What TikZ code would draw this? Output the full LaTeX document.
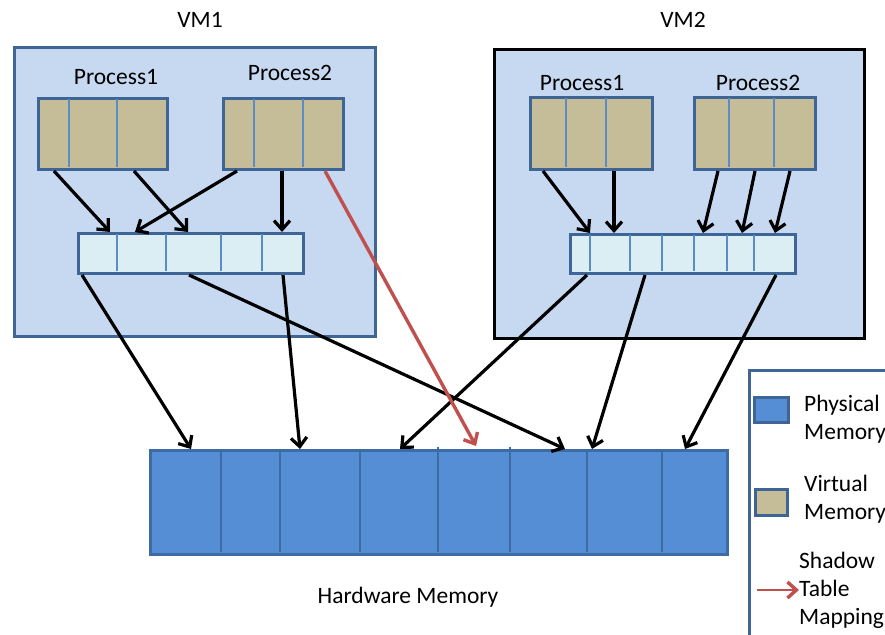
\documentclass[tikz,border=0pt]{standalone}
\usepackage{fontspec}
\setmainfont{Carlito}
\usetikzlibrary{arrows.meta}
\definecolor{vmfill}{HTML}{C6D9F1}
\definecolor{frame}{HTML}{3E6596}
\definecolor{tanfill}{HTML}{C4BD97}
\definecolor{shfill}{HTML}{DBEEF4}
\definecolor{cellline}{HTML}{5B8CC6}
\definecolor{hwfill}{HTML}{558ED5}
\definecolor{hwline}{HTML}{3C6BA6}
\definecolor{mapred}{HTML}{C0504D}
\tikzset{
  lbl/.style={font=\fontsize{23.5}{28}\selectfont, inner sep=0pt},
  vmbox/.style={draw=frame, fill=vmfill, line width=3pt, anchor=north west, inner sep=0pt},
  vbox/.style={draw=frame, fill=tanfill, line width=3pt, anchor=north west, inner sep=0pt},
  sbox/.style={draw=frame, fill=shfill, line width=3pt, anchor=north west, inner sep=0pt},
  hwbox/.style={draw=hwline, fill=hwfill, line width=3pt, anchor=north west, inner sep=0pt},
  divider/.style={draw=cellline, line width=1.2pt},
  hwdivider/.style={draw=hwline, line width=2.5pt},
  arr/.style={draw=black, line width=3.2pt, -{Straight Barb[length=9pt,width=16pt,line width=3.2pt]}},
  redarr/.style={draw=mapred, line width=3.4pt, -{Straight Barb[length=9pt,width=16pt,line width=3.4pt]}},
}
\begin{document}
\begin{tikzpicture}[x=1pt, y=-1pt]
\useasboundingbox (0,0) rectangle (885,634);

% virtual machines
\node[vmbox, minimum width=361, minimum height=289] (vm1) at (13,46) {};
\node[draw=black, fill=vmfill, line width=2.7pt, anchor=north west, inner sep=0pt,
      minimum width=370, minimum height=289] (vm2) at (493,48) {};
\node[lbl] (vm1lbl) at (200,20) {VM1};
\node[lbl] (vm2lbl) at (683,20) {VM2};

% VM1 process pages
\node[vbox, minimum width=129, minimum height=71] (v1p1) at (37,97) {};
\node[vbox, minimum width=120, minimum height=71] (v1p2) at (222,97) {};
\foreach \x in {69,117} \draw[divider] (\x,98.5) -- (\x,166.5);
\foreach \x in {254,303} \draw[divider] (\x,98.5) -- (\x,166.5);
\node[lbl] (v1p1lbl) at (116,77) {Process1};
\node[lbl] (v1p2lbl) at (290,73) {Process2};

% VM1 shadow table
\node[sbox, minimum width=225, minimum height=40] (v1s) at (77,232) {};
\foreach \x in {117,166,221,262} \draw[divider] (\x,233.5) -- (\x,270.5);

% VM2 process pages
\node[vbox, minimum width=122, minimum height=72] (v2p1) at (529,96) {};
\node[vbox, minimum width=121, minimum height=72] (v2p2) at (693,96) {};
\foreach \x in {566,606} \draw[divider] (\x,97.5) -- (\x,166.5);
\foreach \x in {729,774} \draw[divider] (\x,97.5) -- (\x,166.5);
\node[lbl] (v2p1lbl) at (582,83) {Process1};
\node[lbl] (v2p2lbl) at (758,83) {Process2};

% VM2 shadow table
\node[sbox, minimum width=225, minimum height=39] (v2s) at (569,233) {};
\foreach \x in {590,630,662,694,727,754} \draw[divider] (\x,234.5) -- (\x,270.5);

% hardware memory
\node[hwbox, minimum width=577, minimum height=104] (hw) at (149,449) {};
\foreach \x in {221,280,360,587,662} \draw[hwdivider] (\x,450) -- (\x,552);
\foreach \x in {438,510} \draw[hwdivider, line width=1.4pt] (\x,447) -- (\x,552);
\node[lbl] (hwlbl) at (408,597) {Hardware Memory};

% guest page tables: process pages to shadow entries
\draw[arr] ([xshift=17]v1p1.south west) -- ([xshift=33]v1s.north west);
\draw[arr] ([xshift=97]v1p1.south west) -- ([xshift=111]v1s.north west);
\draw[arr] ([xshift=15]v1p2.south west) -- ([xshift=58]v1s.north west);
\draw[arr] ([xshift=60]v1p2.south west) -- ([xshift=205]v1s.north west);

\draw[arr] ([xshift=14]v2p1.south west) -- ([xshift=21]v2s.north west);
\draw[arr] ([xshift=85]v2p1.south west) -- ([xshift=45]v2s.north west);
\draw[arr] ([xshift=25]v2p2.south west) -- ([xshift=134]v2s.north west);
\draw[arr] ([xshift=62]v2p2.south west) -- ([xshift=173]v2s.north west);
\draw[arr] ([xshift=97]v2p2.south west) -- ([xshift=206]v2s.north west);

% shadow entries to physical pages
\draw[arr] ([xshift=5]v1s.south west) -- ([xshift=42]hw.north west);
\draw[arr] ([xshift=112]v1s.south west) -- ([xshift=416]hw.north west);
\draw[arr] ([xshift=206]v1s.south west) -- ([xshift=151]hw.north west);
\draw[arr] ([xshift=18]v2s.south west) -- ([xshift=251]hw.north west);
\draw[arr] ([xshift=76]v2s.south west) -- ([xshift=443]hw.north west);
\draw[arr] ([xshift=207]v2s.south west) -- ([xshift=536]hw.north west);

% shadow table mapping
\draw[redarr] ([xshift=103]v1p2.south west) -- ([xshift=327,yshift=3]hw.north west);

% legend
\node[draw=frame, line width=2.5pt, fill=white, anchor=north west, inner sep=0pt,
      minimum width=160, minimum height=290] (legend) at (748,369) {};
\node[draw=frame, fill=hwfill, line width=3pt, anchor=north west, inner sep=0pt,
      minimum width=34, minimum height=25] (keyphys) at (753,396) {};
\node[vbox, minimum width=32, minimum height=26] (keyvirt) at (754,488) {};
\node[lbl, anchor=west, align=left] (physlbl) at (804,419) {Physical\\Memory};
\node[lbl, anchor=west, align=left] (virtlbl) at (804,499) {Virtual\\Memory};
\node[lbl, anchor=west, align=left] (maplbl) at (799,590) {Shadow\\Table\\Mapping};
\coordinate (keymapstart) at (757,590);
\draw[redarr, line width=2.8pt] (keymapstart) -- (maplbl.west);
\end{tikzpicture}
\end{document}
